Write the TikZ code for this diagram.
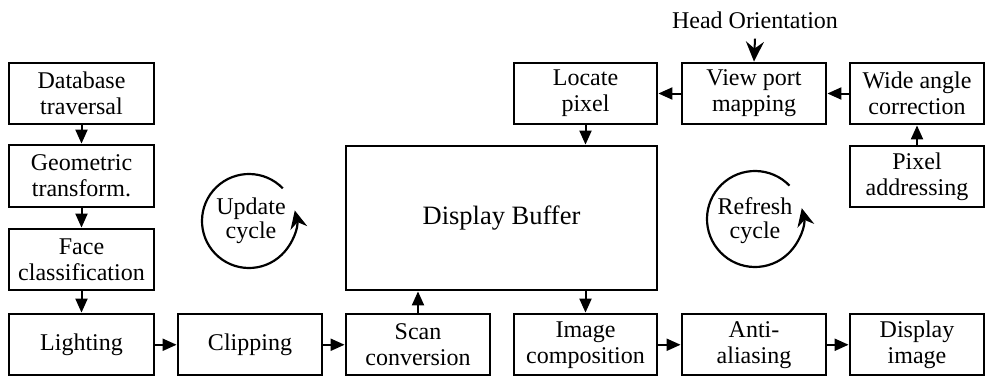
\documentclass[tikz,border=0pt]{standalone}
\usepackage{fontspec}
\setmainfont{Liberation Serif}
\usetikzlibrary{arrows.meta}
\tikzset{
  stage/.style={draw, line width=2.8pt, rectangle, inner sep=0pt, align=center,
    font=\fontsize{24}{26}\selectfont},
  arr/.style={line width=2pt, -{Triangle[length=14pt, width=12pt]}},
  cyc/.style={line width=2.2pt, -{Stealth[length=18pt, width=17pt, inset=6pt]}},
  lbl/.style={align=center, inner sep=0pt, font=\fontsize{24}{24}\selectfont},
}
\begin{document}
\begin{tikzpicture}[x=1pt, y=-1pt]
\useasboundingbox (0,0) rectangle (985,375);

% geometry pipeline (left column and bottom row)
\node[stage, minimum width=145pt, minimum height=61pt] (db)   at (81.5,93.5)  {Database\\traversal};
\node[stage, minimum width=145pt, minimum height=62pt] (geo)  at (81.5,176)   {Geometric\\transform.};
\node[stage, minimum width=145pt, minimum height=61pt] (face) at (81.5,259.5) {Face\\classification};
\node[stage, minimum width=145pt, minimum height=61.5pt] (light) at (81.5,344.75) {Lighting};
\node[stage, minimum width=144pt, minimum height=61.5pt] (clip)  at (250,344.75)  {Clipping};
\node[stage, minimum width=144pt, minimum height=61.5pt] (scan)  at (418,344.75)  {Scan\\conversion};
\node[stage, minimum width=143pt, minimum height=61.5pt] (img)   at (585.5,344.75) {Image\\composition};
\node[stage, minimum width=144pt, minimum height=61.5pt] (anti)  at (754,344.75)  {Anti-\\aliasing};
\node[stage, minimum width=134pt, minimum height=61.5pt] (disp)  at (917,344.75)  {Display\\image};

% frame buffer
\node[stage, minimum width=311pt, minimum height=144pt,
      font=\fontsize{26.5}{30}\selectfont] (buf) at (501.5,218) {Display Buffer};

% refresh path (top right)
\node[stage, minimum width=143pt, minimum height=61pt] (loc)  at (585.5,93.5) {Locate\\pixel};
\node[stage, minimum width=144pt, minimum height=61pt] (view) at (754,93.5)   {View port\\mapping};
\node[stage, minimum width=134pt, minimum height=61pt] (wide) at (917,93.5)   {Wide angle\\correction};
\node[stage, minimum width=134pt, minimum height=61pt] (pix)  at (917,176.5)  {Pixel\\addressing};

\node[inner sep=0pt, font=\fontsize{24}{24}\selectfont] (head) at (755,20) {Head Orientation};

% connectors
\draw[arr] (db) -- (geo);
\draw[arr] (geo) -- (face);
\draw[arr] (face) -- (light);
\draw[arr] (light) -- (clip);
\draw[arr] (clip) -- (scan);
\draw[arr] (scan.north) -- (scan.north |- buf.south);
\draw[arr] (buf.south -| img.north) -- (img.north);
\draw[arr] (img) -- (anti);
\draw[arr] (anti) -- (disp);
\draw[arr] (loc.south) -- (loc.south |- buf.north);
\draw[arr] (view) -- (loc);
\draw[arr] (wide.west) -- (wide.west -| view.east);
\draw[arr] (pix.north) -- (pix.north |- wide.south);
\draw[line width=2pt, -{Stealth[length=20pt, width=18pt, inset=7pt]}] ([yshift=-10pt]head.south) -- (view.north);

% cycle labels with circular arrows
\node[lbl] (upd) at (251,221) {Update\\cycle};
\node[lbl] (ref) at (755,221) {Refresh\\cycle};
\draw[cyc] ([shift={(-44:47)}]249,221) arc[start angle=44, end angle=373, radius=47pt];
\draw[cyc] ([shift={(-44:48)}]755,219) arc[start angle=44, end angle=373, radius=48pt];
\end{tikzpicture}
\end{document}
